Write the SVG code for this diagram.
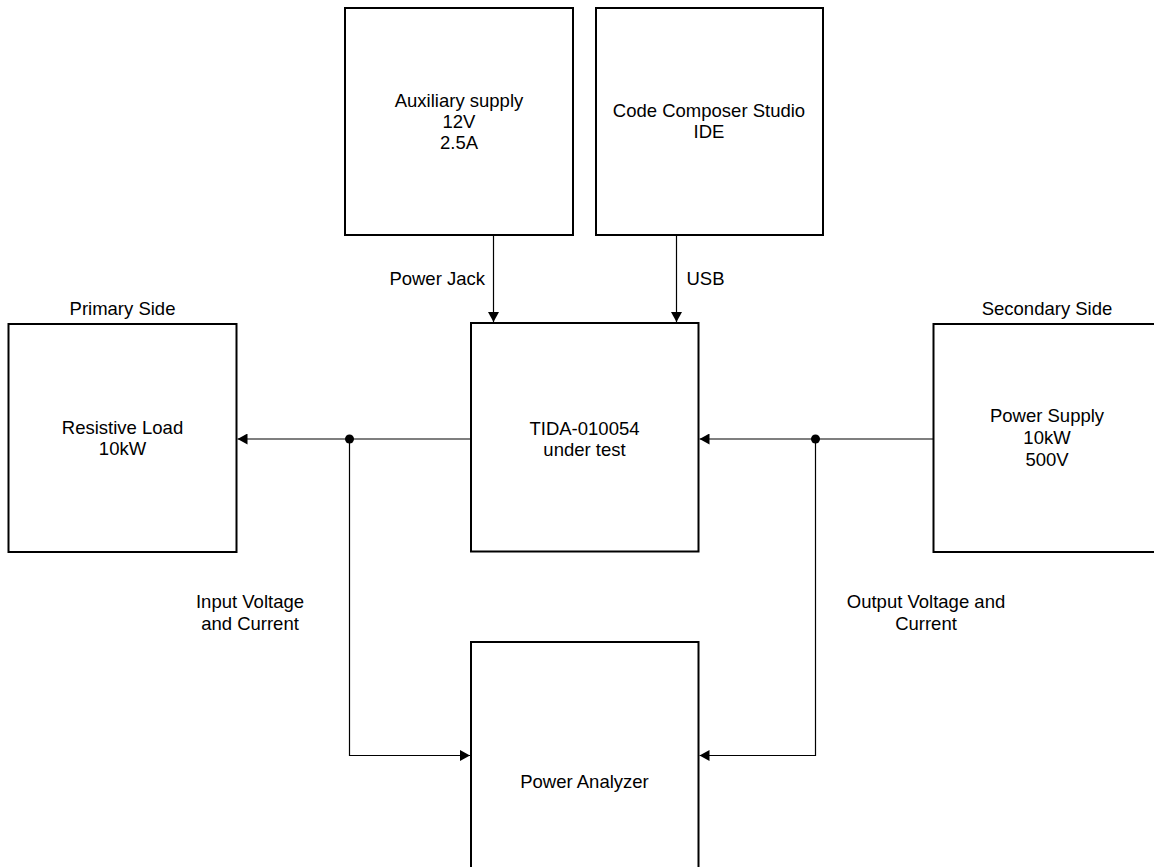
<svg xmlns="http://www.w3.org/2000/svg" width="1154" height="867" viewBox="0 0 1154 867">
<style>
.box{fill:#fff;stroke:#000;stroke-width:2}
.wire{fill:none;stroke:#000;stroke-width:1.2}
text{font-family:"Liberation Sans",Arial,sans-serif;font-size:18.5px;fill:#000;text-anchor:middle}
</style>
<defs>
<marker id="ah" markerUnits="userSpaceOnUse" markerWidth="10" markerHeight="11" refX="10" refY="5.5" orient="auto">
<path d="M0,0 L10,5.5 L0,11 z" fill="#000"/>
</marker>
</defs>
<rect width="1154" height="867" fill="#fff"/>
<g id="aux">
<rect class="box" x="345" y="8" width="228" height="227"/>
<text x="459" y="106.5">Auxiliary supply</text>
<text x="459" y="127.5">12V</text>
<text x="459" y="148.5">2.5A</text>
</g>
<g id="ccs">
<rect class="box" x="596" y="8" width="227" height="227"/>
<text x="709" y="117">Code Composer Studio</text>
<text x="709" y="138">IDE</text>
</g>
<g id="tida">
<rect class="box" x="471" y="323" width="227.5" height="228.5"/>
<text x="584.5" y="434.5">TIDA-010054</text>
<text x="584.5" y="455.5">under test</text>
</g>
<g id="load">
<text x="122.5" y="315">Primary Side</text>
<rect class="box" x="8.5" y="324" width="228" height="228"/>
<text x="122.5" y="433.5">Resistive Load</text>
<text x="122.5" y="455">10kW</text>
</g>
<g id="supply">
<text x="1047" y="315">Secondary Side</text>
<rect class="box" x="933.5" y="324" width="230" height="228"/>
<text x="1047" y="422">Power Supply</text>
<text x="1047" y="444">10kW</text>
<text x="1047" y="466">500V</text>
</g>
<g id="analyzer">
<rect class="box" x="471" y="642" width="227.5" height="240"/>
<text x="584.5" y="788">Power Analyzer</text>
</g>
<g id="connectors">
<path class="wire" d="M493.5,235 V322" marker-end="url(#ah)"/>
<path class="wire" d="M676.5,235 V322" marker-end="url(#ah)"/>
<path class="wire" d="M471,439 H237.5" marker-end="url(#ah)"/>
<path class="wire" d="M933,439 H699.5" marker-end="url(#ah)"/>
<path class="wire" d="M349.5,439 V755.5 H470" marker-end="url(#ah)"/>
<path class="wire" d="M815.5,439 V755.5 H699.5" marker-end="url(#ah)"/>
<circle cx="349.5" cy="439" r="4.5" fill="#000"/>
<circle cx="815.5" cy="439" r="4.5" fill="#000"/>
<text x="485" y="285" style="text-anchor:end">Power Jack</text>
<text x="686.5" y="285" style="text-anchor:start">USB</text>
<text x="250" y="607.5">Input Voltage</text>
<text x="250" y="629.5">and Current</text>
<text x="926" y="607.5">Output Voltage and</text>
<text x="926" y="629.5">Current</text>
</g>
</svg>
